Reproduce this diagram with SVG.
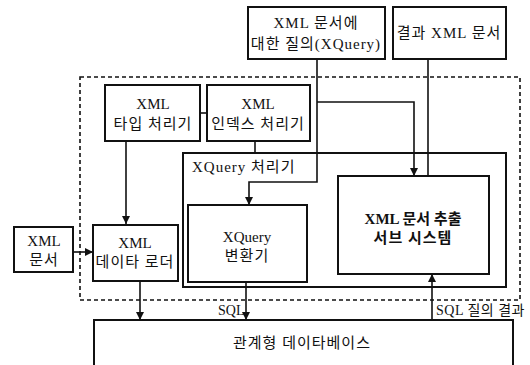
<svg xmlns="http://www.w3.org/2000/svg" width="530" height="365" viewBox="0 0 530 365">
<style>
  .box{fill:#fff;stroke:#111;stroke-width:2}
  .ln{fill:none;stroke:#111;stroke-width:1.6}
  .t{font-family:"Liberation Serif","Noto Sans CJK KR",serif;font-size:15px;fill:#111;text-anchor:middle}
  .tl{font-family:"Liberation Serif","Noto Sans CJK KR",serif;font-size:15px;fill:#111}
  .k{letter-spacing:1px}
  .b{font-weight:bold}
</style>
<defs>
  <marker id="ah" viewBox="0 0 10 10" refX="10" refY="5" markerWidth="8" markerHeight="8" markerUnits="userSpaceOnUse" orient="auto">
    <path d="M0,0 L10,5 L0,10 z" fill="#111"/>
  </marker>
</defs>
<rect x="0" y="0" width="530" height="365" fill="#fff"/>

<g id="system">
  <rect x="80" y="77" width="440" height="223" fill="none" stroke="#111" stroke-width="1.6" stroke-dasharray="4,3"/>
</g>

<g id="query">
  <rect class="box" x="248" y="7" width="137" height="52"/>
  <text class="t k" x="316" y="28">XML 문서에</text>
  <text class="t k" x="316" y="49">대한 질의(XQuery)</text>
</g>
<g id="result">
  <rect class="box" x="393" y="7" width="113" height="52"/>
  <text class="t k" x="449" y="38">결과 XML 문서</text>
</g>
<g id="type">
  <rect class="box" x="105" y="85" width="95" height="56"/>
  <text class="t" x="153" y="109">XML</text>
  <text class="t k" x="153" y="129">타입 처리기</text>
</g>
<g id="index">
  <rect class="box" x="207" y="85" width="103" height="56"/>
  <text class="t" x="258" y="109">XML</text>
  <text class="t k" x="258" y="129">인덱스 처리기</text>
</g>
<g id="processor">
  <rect class="box" x="183" y="153" width="323" height="134"/>
  <text class="tl k" x="192" y="172">XQuery 처리기</text>
</g>
<g id="converter">
  <rect class="box" x="188" y="205" width="119" height="77"/>
  <text class="t" x="247" y="242">XQuery</text>
  <text class="t k" x="247" y="261">변환기</text>
</g>
<g id="extract">
  <rect class="box" x="338" y="176" width="151" height="98"/>
  <text class="t b" x="413" y="224">XML 문서 추출</text>
  <text class="t b k" x="413" y="243">서브 시스템</text>
</g>
<g id="xmldoc">
  <rect class="box" x="14" y="227" width="59" height="45"/>
  <text class="t" x="44" y="246">XML</text>
  <text class="t k" x="44" y="265">문서</text>
</g>
<g id="loader">
  <rect class="box" x="93" y="225" width="85" height="56"/>
  <text class="t" x="135" y="248">XML</text>
  <text class="t k" x="135" y="267">데이타 로더</text>
</g>
<g id="db">
  <path class="box" d="M94,366 V320 H513 V366" fill="#fff"/>
  <text class="t k" x="302" y="348">관계형 데이타베이스</text>
</g>

<g id="connectors">
  <path class="ln" d="M126,141 V224" marker-end="url(#ah)"/>
  <path class="ln" d="M200,113 H207"/>
  <path class="ln" d="M255,141 V153"/>
  <path class="ln" d="M317,59 V182 H249 V205" marker-end="url(#ah)"/>
  <path class="ln" d="M317,102 H414 V176" marker-end="url(#ah)"/>
  <path class="ln" d="M428,176 V59"/>
  <path class="ln" d="M73,252 H93" marker-end="url(#ah)"/>
  <path class="ln" d="M140,281 V320" marker-end="url(#ah)"/>
  <path class="ln" d="M246,282 V320" marker-end="url(#ah)"/>
  <path class="ln" d="M432,320 V274" marker-end="url(#ah)"/>
  <text class="tl" x="218" y="315" style="font-size:14px">SQL</text>
  <text class="tl" x="436" y="315" style="font-size:14px;letter-spacing:0.5px">SQL 질의 결과</text>
</g>
</svg>
